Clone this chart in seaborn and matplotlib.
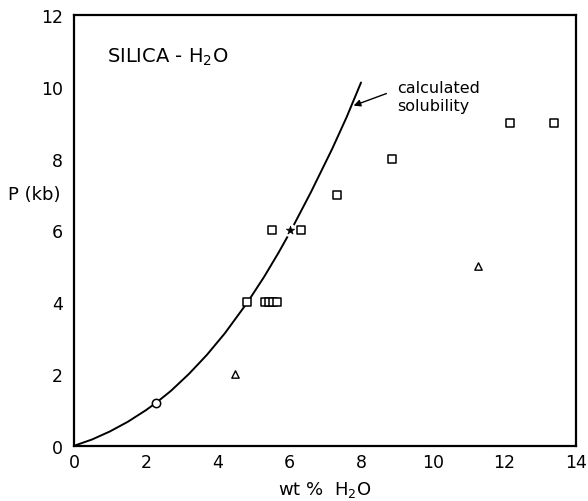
import matplotlib
matplotlib.use("Agg")
import matplotlib.pyplot as plt
import seaborn as sns
import pandas as pd

# calculated solubility curve
curve_x = [0.0, 0.5, 1.0, 1.5, 2.0, 2.29, 2.7, 3.2, 3.7, 4.2, 4.83, 5.3, 5.7, 6.02, 6.6, 7.19, 7.6, 8.0]
curve_p = [0.0, 0.175, 0.40, 0.67, 0.99, 1.20, 1.53, 2.0, 2.53, 3.13, 3.99, 4.71, 5.38, 5.95, 7.06, 8.26, 9.16, 10.12]

# experimental points
sq_x = [4.83, 5.33, 5.44, 5.55, 5.66, 5.53, 6.32, 7.32, 8.85, 12.16, 13.37]
sq_p = [4.0, 4.0, 4.0, 4.0, 4.0, 6.0, 6.0, 7.0, 8.0, 9.0, 9.0]
tri_x = [4.49, 11.25]
tri_p = [2.0, 5.0]
circ_x = [2.29]
circ_p = [1.2]
star_x = [6.02]
star_p = [6.0]

x_ticks = [0, 2, 4, 6, 8, 10, 12, 14]
y_ticks = [0, 2, 4, 6, 8, 10, 12]

sns.set_style("white")
plt.rcParams['font.family'] = ['DejaVu Sans']
plt.rcParams['text.color'] = 'black'
plt.rcParams['axes.labelcolor'] = 'black'

fig = plt.figure(figsize=(5.88, 5.02), dpi=100)
ax = fig.add_axes([0.126, 0.110, 0.854, 0.858])

curve = pd.DataFrame({"x": curve_x, "p": curve_p})
sns.lineplot(data=curve, x="x", y="p", sort=False, color="black", lw=1.4, ax=ax, zorder=2)

sns.scatterplot(x=star_x, y=star_p, marker="o", s=90, color="white", edgecolor="none", ax=ax, zorder=3)
sns.scatterplot(x=star_x, y=star_p, marker="*", s=40, color="black", edgecolor="black", linewidth=0.5, ax=ax, zorder=4)
sns.scatterplot(x=sq_x, y=sq_p, marker="s", s=38, facecolor="white", edgecolor="black", linewidth=1.1, ax=ax, zorder=4)
sns.scatterplot(x=tri_x, y=tri_p, marker="^", s=28, facecolor="white", edgecolor="black", linewidth=1.0, ax=ax, zorder=4)
sns.scatterplot(x=circ_x, y=circ_p, marker="o", s=36, facecolor="white", edgecolor="black", linewidth=1.1, ax=ax, zorder=4)

ax.set_xlim(0, 14)
ax.set_ylim(0, 12)
ax.set_xticks(x_ticks)
ax.set_yticks(y_ticks)
ax.set_xticklabels([str(t) for t in x_ticks])
ax.set_yticklabels([str(t) for t in y_ticks])
ax.tick_params(direction="in", length=9, width=1.2, labelsize=12.5, colors="black")
ax.tick_params(axis="x", pad=5)
ax.tick_params(axis="y", pad=8)
for s in ax.spines.values():
    s.set_linewidth(1.6)
    s.set_color("black")
    s.set_visible(True)

ax.set_xlabel("wt %  H$_2$O", fontsize=13, labelpad=6, color="black")
ax.set_ylabel("P (kb)", fontsize=13, rotation=0, ha="center", va="center", color="black")
ax.yaxis.set_label_coords(-0.08, 0.584)

ax.text(0.92, 10.85, "SILICA - H$_2$O", fontsize=14, va="center", ha="left", color="black")
ax.text(9.0, 9.97, "calculated", fontsize=11.5, va="center", ha="left", color="black")
ax.text(9.0, 9.47, "solubility", fontsize=11.5, va="center", ha="left", color="black")
ax.annotate("", xy=(7.72, 9.45), xytext=(8.78, 9.84),
            arrowprops=dict(arrowstyle="-|>", color="black", lw=1.0, mutation_scale=10))

fig.savefig("out.png", dpi=100)
